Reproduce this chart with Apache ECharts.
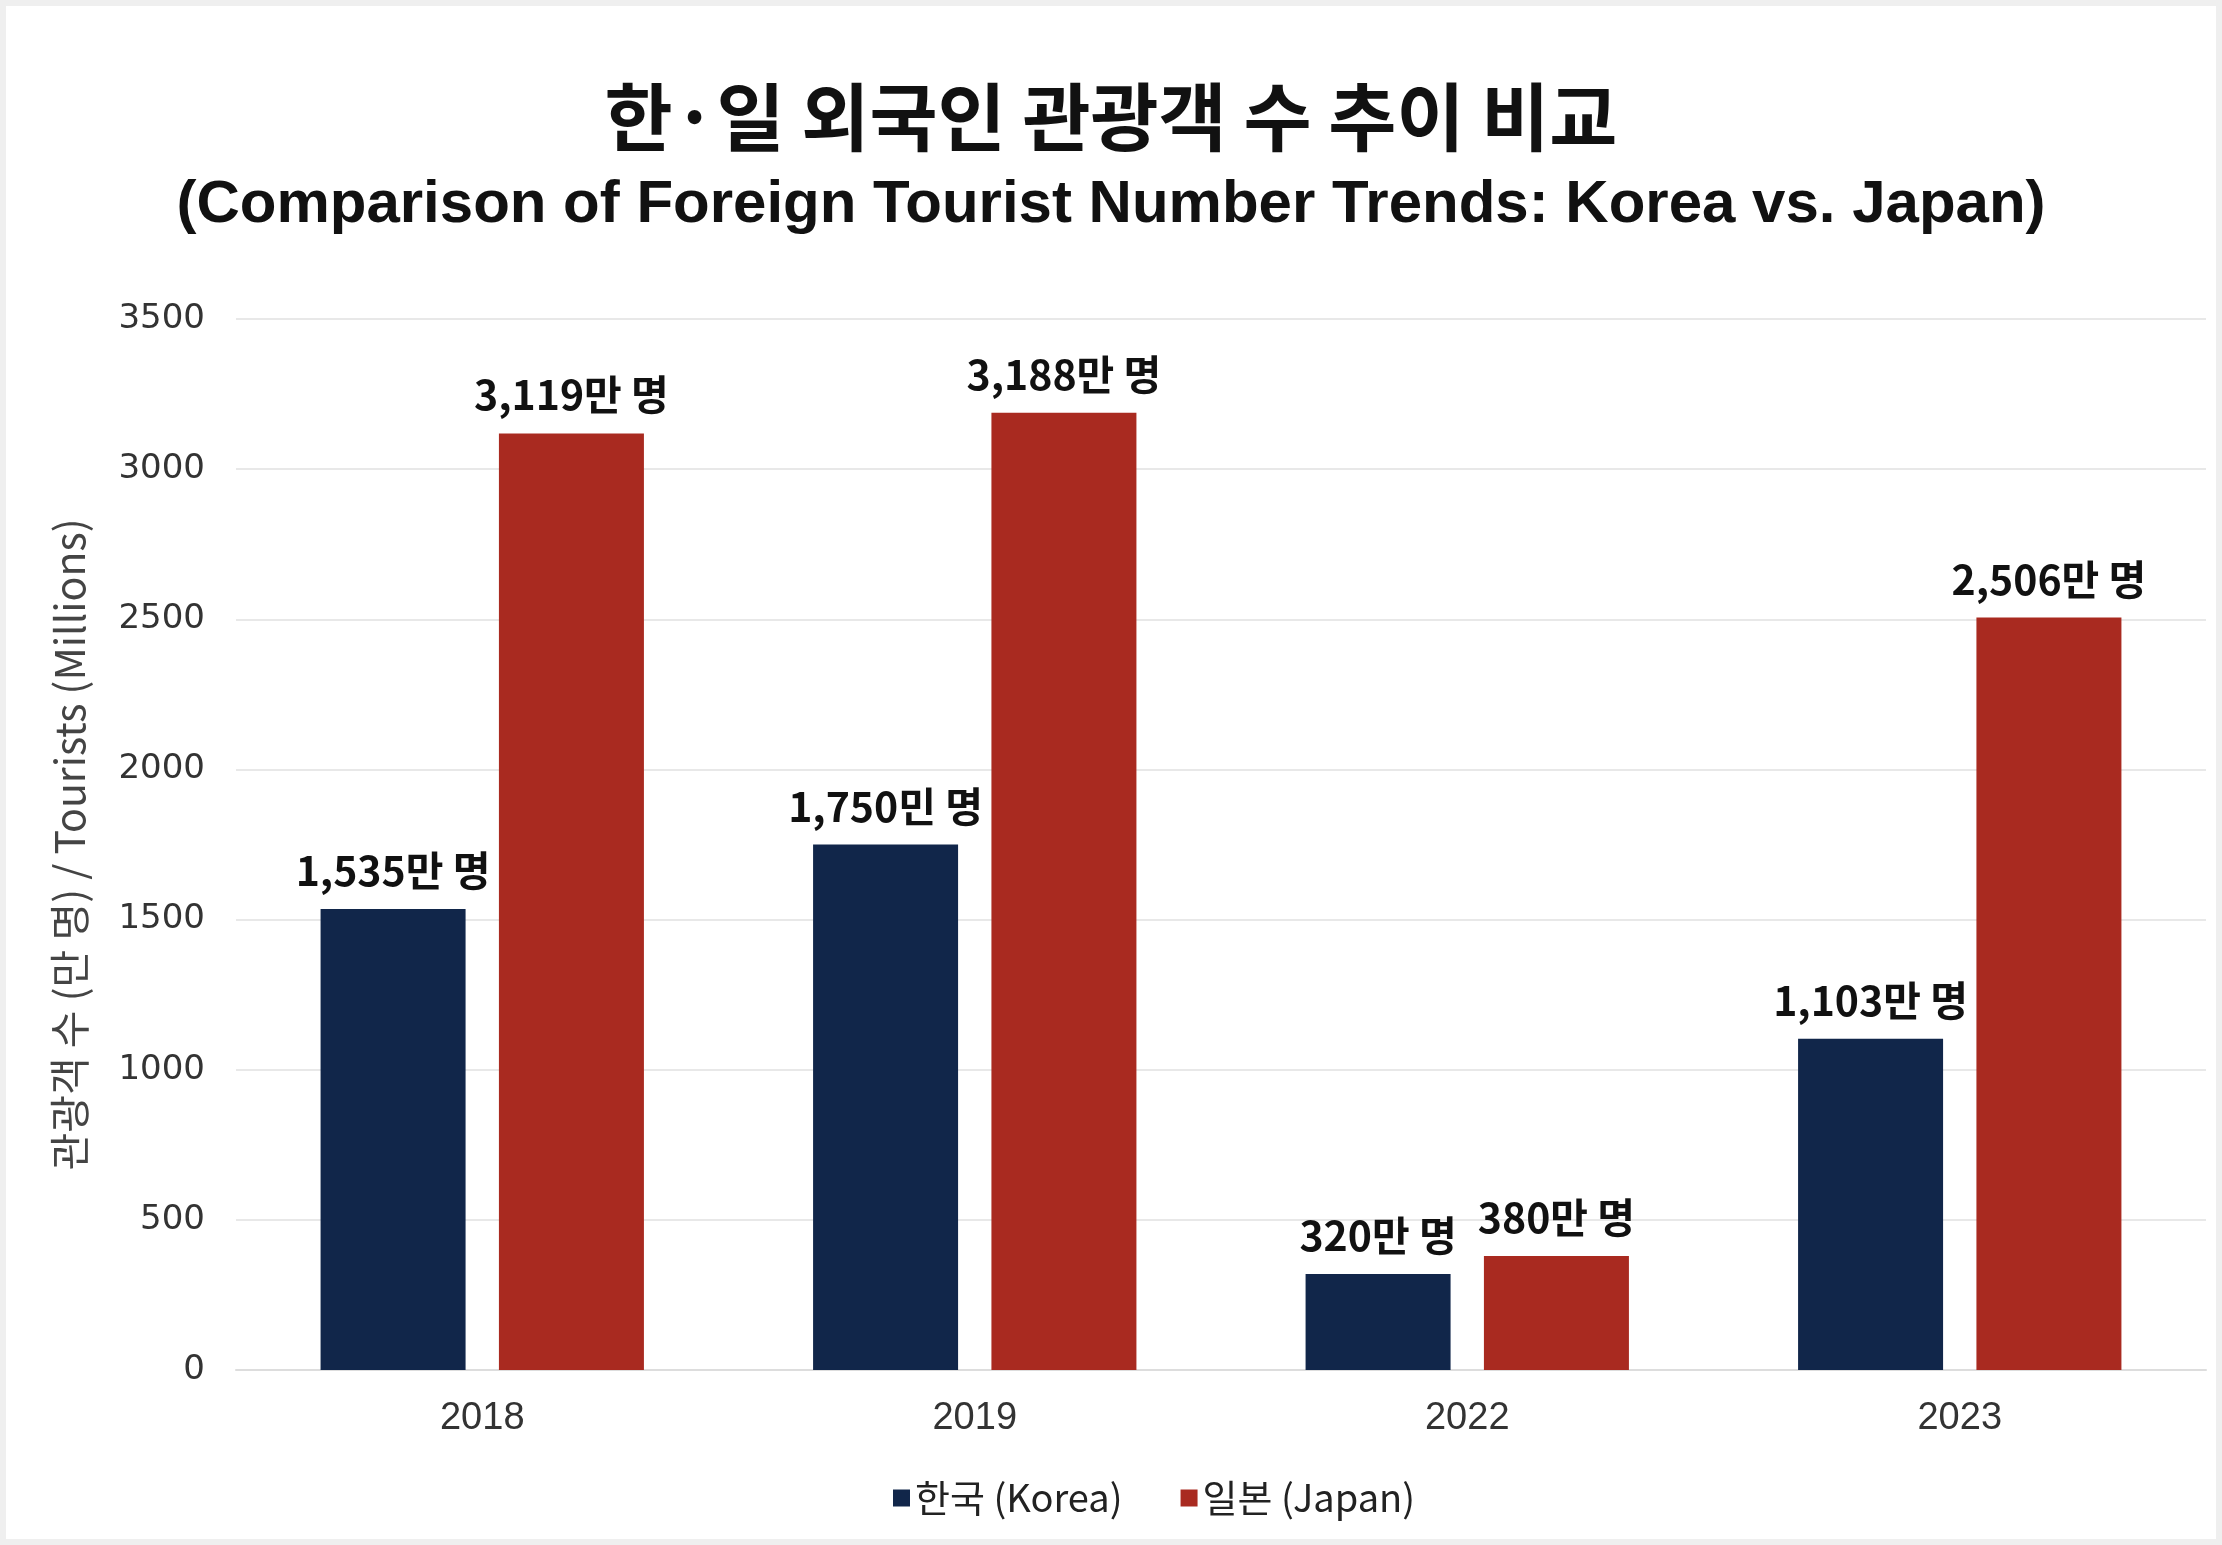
<!DOCTYPE html>
<html>
<head>
<meta charset="utf-8">
<script src="https://cdn.jsdelivr.net/npm/echarts@6/dist/echarts.min.js"></script>
<style>
  html, body { margin: 0; padding: 0; background: #fff; }
  #chart { width: 2222px; height: 1545px; box-shadow: inset 0 0 0 6px #efefef; }
</style>
</head>
<body>
<div id="chart"></div>
<script>
// 데이터 (단위: 만 명)
const years = ["2018", "2019", "2022", "2023"];
const koreaValues = [1535, 1750, 320, 1103];
const japanValues = [3119, 3188, 380, 2506];
// 막대 위 라벨 (원본 그대로)
const koreaLabels = ["1,535만 명", "1,750민 명", "320만 명", "1,103만 명"];
const japanLabels = ["3,119만 명", "3,188만 명", "380만 명", "2,506만 명"];

const KOREA_COLOR = "#11264a";
const JAPAN_COLOR = "#a92a20";

const chart = echarts.init(document.getElementById("chart"));

const labelStyle = (texts) => ({
  show: true,
  position: "top",
  distance: 18,
  fontSize: 41,
  fontWeight: "bold",
  color: "#111",
  fontFamily: "Noto Sans CJK KR",
  formatter: (p) => texts[p.dataIndex],
});

const option = {
  title: [
    {
      text: "한·일 외국인 관광객 수 추이 비교",
      left: "center",
      top: 75,
      textStyle: {
        fontSize: 74,
        fontWeight: "bold",
        color: "#111",
        fontFamily: "Noto Sans CJK KR",
      },
    },
    {
      text: "(Comparison of Foreign Tourist Number Trends: Korea vs. Japan)",
      left: "center",
      top: 170,
      textStyle: {
        fontSize: 60,
        fontWeight: "bold",
        color: "#111",
        fontFamily: "Liberation Sans",
      },
    },
  ],
  legend: {
    top: 1474,
    left: 888,
    icon: "rect",
    itemWidth: 17,
    itemHeight: 17,
    itemGap: 58,
    textStyle: { fontSize: 38, color: "#222", fontFamily: "Noto Sans CJK KR" },
  },
  grid: { left: 236, right: 16, top: 319, bottom: 175 },
  xAxis: {
    type: "category",
    data: years,
    axisLine: { lineStyle: { color: "#dddddd", width: 2 } },
    axisTick: { show: false },
    axisLabel: { fontSize: 38, color: "#333", margin: 30, fontFamily: "Liberation Sans" },
  },
  yAxis: {
    type: "value",
    min: 0,
    max: 3500,
    interval: 500,
    name: "관광객 수 (만 명) / Tourists (Millions)",
    nameLocation: "middle",
    nameGap: 146,
    nameTextStyle: { fontSize: 41, color: "#444", fontFamily: "Noto Sans CJK KR" },
    axisLine: { show: false },
    axisTick: { show: false },
    axisLabel: {
      fontSize: 34,
      color: "#333",
      margin: 31,
      fontFamily: "DejaVu Sans",
      formatter: (v) => String(v),
    },
    splitLine: { lineStyle: { color: "#e8e8e8", width: 2 } },
  },
  series: [
    {
      name: "한국 (Korea)",
      type: "bar",
      data: koreaValues,
      barWidth: 145,
      barGap: "23%",
      itemStyle: { color: KOREA_COLOR },
      label: labelStyle(koreaLabels),
    },
    {
      name: "일본 (Japan)",
      type: "bar",
      data: japanValues,
      barWidth: 145,
      barGap: "23%",
      itemStyle: { color: JAPAN_COLOR },
      label: labelStyle(japanLabels),
    },
  ],
};

chart.setOption(option);
</script>
</body>
</html>
